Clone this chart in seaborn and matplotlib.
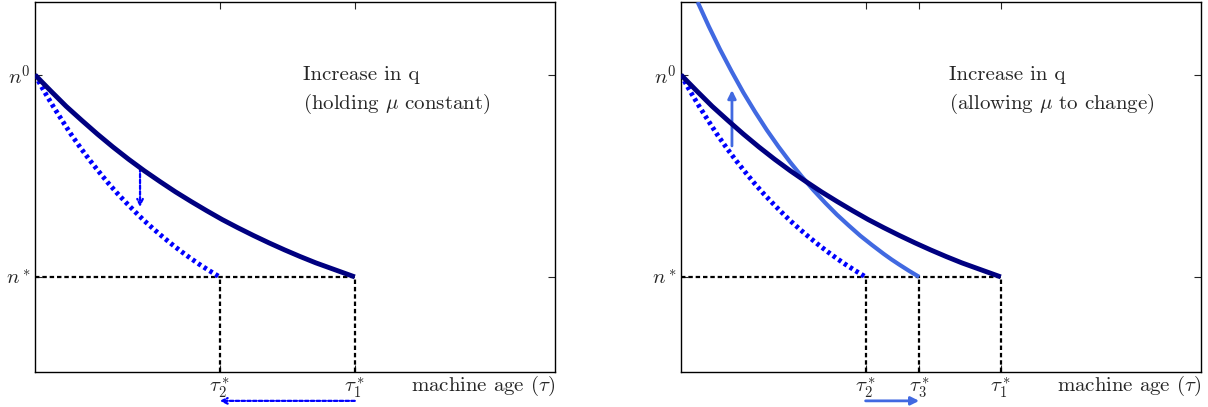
import numpy as np
import pandas as pd
import seaborn as sns
import matplotlib
matplotlib.use("Agg")
import matplotlib.pyplot as plt

# ---- data (axes units 0..1) ----
n0 = 0.803
nstar = 0.257
tau1 = 0.615
tau2 = 0.355
tau3 = 0.458

# original schedule (navy)
orig_x = [0.0, 0.03, 0.06, 0.09, 0.12, 0.15, 0.18, 0.21, 0.24, 0.27, 0.30,
          0.33, 0.36, 0.39, 0.42, 0.45, 0.48, 0.51, 0.54, 0.5775, 0.615]
orig_y = [0.803, 0.760, 0.718, 0.680, 0.643, 0.608, 0.575, 0.544, 0.515, 0.487, 0.461,
          0.436, 0.412, 0.390, 0.369, 0.349, 0.330, 0.312, 0.295, 0.276, 0.257]

# after increase in q, mu held constant (blue dotted)
hold_x = [0.0, 0.0175, 0.035, 0.0525, 0.07, 0.0875, 0.105, 0.1225, 0.14, 0.1575, 0.175,
          0.1925, 0.21, 0.2275, 0.245, 0.2625, 0.28, 0.2975, 0.315, 0.335, 0.355]
hold_y = [0.803, 0.759, 0.718, 0.679, 0.641, 0.606, 0.573, 0.542, 0.512, 0.484, 0.458,
          0.433, 0.409, 0.387, 0.366, 0.346, 0.327, 0.309, 0.292, 0.274, 0.257]

# after increase in q, mu allowed to change (royal blue)
allow_x = [0.032, 0.0535, 0.075, 0.0975, 0.12, 0.1425, 0.165, 0.1875, 0.21, 0.2325, 0.255,
           0.2775, 0.30, 0.3225, 0.345, 0.3675, 0.39, 0.405, 0.42, 0.439, 0.458]
allow_y = [1.000, 0.934, 0.872, 0.812, 0.755, 0.703, 0.654, 0.609, 0.567, 0.528, 0.491,
           0.457, 0.425, 0.396, 0.368, 0.343, 0.319, 0.304, 0.290, 0.273, 0.257]

ytick_vals = [nstar, n0]
ytick_labels = [r"$n^*$", r"$n^0$"]
left_xticks = [tau2, tau1]
left_xlabels = [r"$\tau_2^*$", r"$\tau_1^*$"]
right_xticks = [tau2, tau3, tau1]
right_xlabels = [r"$\tau_2^*$", r"$\tau_3^*$", r"$\tau_1^*$"]

titles = [("Increase in q", r"(holding $\mu$ constant)"),
          ("Increase in q", r"(allowing $\mu$ to change)")]

sns.set_style("white")
plt.rcParams["font.family"] = ["cmr10", "DejaVu Serif"]
plt.rcParams["mathtext.fontset"] = "cm"
plt.rcParams["axes.formatter.use_mathtext"] = True
plt.rcParams["lines.solid_joinstyle"] = "round"
plt.rcParams["lines.solid_capstyle"] = "butt"

fig = plt.figure(figsize=(12.08, 4.07), dpi=100)
axL = fig.add_axes([35 / 1208, 35 / 407, 520 / 1208, 370 / 407])
axR = fig.add_axes([681 / 1208, 35 / 407, 520 / 1208, 370 / 407])

NAVY = "#000080"
BLUE = "#0000ff"
ROYAL = "#4169e1"
FS = 15

df_orig = pd.DataFrame({"x": orig_x, "y": orig_y})
df_hold = pd.DataFrame({"x": hold_x, "y": hold_y})
df_allow = pd.DataFrame({"x": allow_x, "y": allow_y})

REF_LS = (0, (2.0, 1.3))

for ax, xt, xl, (t1, t2) in [(axL, left_xticks, left_xlabels, titles[0]),
                              (axR, right_xticks, right_xlabels, titles[1])]:
    ax.set_xlim(0, 1)
    ax.set_ylim(0, 1)
    # reference lines
    ax.plot([0, tau1], [nstar, nstar], color="black", ls=REF_LS, lw=1.6, zorder=2)
    for t in xt:
        ax.plot([t, t], [0, nstar], color="black", ls=REF_LS, lw=1.6, zorder=2)
    sns.lineplot(data=df_hold, x="x", y="y", ax=ax, color=BLUE, lw=3.5,
                 linestyle=(0, (0.7, 0.7)), sort=False, zorder=3)
    sns.lineplot(data=df_orig, x="x", y="y", ax=ax, color=NAVY, lw=3.5,
                 sort=False, zorder=4)
    ax.set_xticks(xt)
    ax.set_xticklabels(xl, fontsize=FS)
    ax.set_yticks(ytick_vals)
    ax.set_yticklabels(ytick_labels, fontsize=FS)
    ax.tick_params(direction="in", length=5, width=0.8, top=True, right=True,
                   bottom=True, left=True, pad=3)
    ax.set_xlabel("")
    ax.set_ylabel("")
    for s in ax.spines.values():
        s.set_visible(True)
        s.set_linewidth(1.0)
        s.set_color("black")
    ax.text(1.0, -0.037, r"machine age ($\tau$)", transform=ax.transAxes,
            ha="right", va="center", fontsize=FS)
    ax.text(0.515, n0, t1, ha="left", va="center", fontsize=FS)
    ax.text(0.515, 0.724, t2, ha="left", va="center", fontsize=FS)

# right panel extra curve
sns.lineplot(data=df_allow, x="x", y="y", ax=axR, color=ROYAL, lw=3.0,
             sort=False, zorder=3.5)
axR.set_xlabel("")
axR.set_ylabel("")

# arrows
DOT_LS = (0, (1.6, 1.0))
axL.annotate("", xy=(0.202, 0.446), xytext=(0.202, 0.551),
             arrowprops=dict(arrowstyle="->", color=BLUE, lw=1.6, ls=DOT_LS,
                             shrinkA=0, shrinkB=0))
axL.annotate("", xy=(tau2, -0.078), xytext=(tau1, -0.078),
             xycoords="data", annotation_clip=False,
             arrowprops=dict(arrowstyle="->", color=BLUE, lw=1.6, ls=DOT_LS,
                             shrinkA=0, shrinkB=0))
axR.annotate("", xy=(0.098, 0.762), xytext=(0.098, 0.611),
             arrowprops=dict(arrowstyle="-|>", color=ROYAL, lw=2.0,
                             mutation_scale=12, shrinkA=0, shrinkB=0))
axR.annotate("", xy=(tau3, -0.078), xytext=(tau2, -0.078),
             annotation_clip=False,
             arrowprops=dict(arrowstyle="-|>", color=ROYAL, lw=2.0,
                             mutation_scale=12, shrinkA=0, shrinkB=0))

fig.savefig("out.png", dpi=100)
